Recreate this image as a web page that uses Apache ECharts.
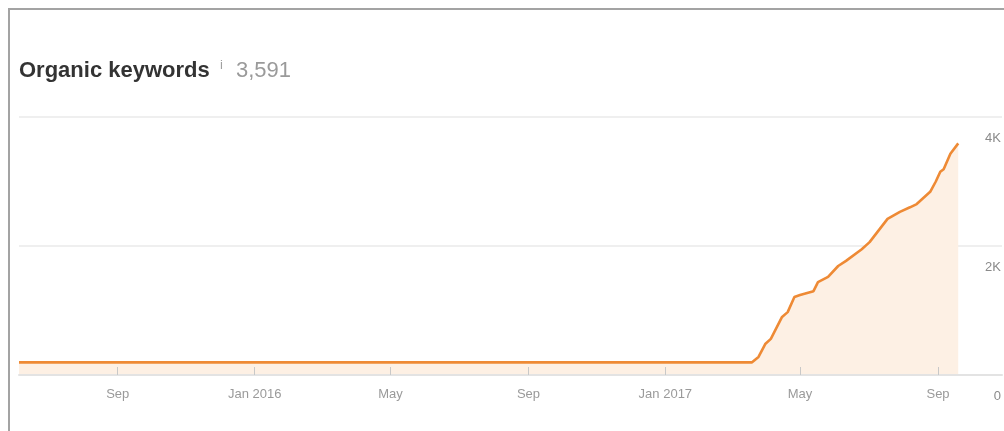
<!DOCTYPE html>
<html>
<head>
<meta charset="utf-8">
<script src="https://cdn.jsdelivr.net/npm/echarts@6/dist/echarts.min.js"></script>
<style>
html,body{margin:0;padding:0;background:#fff;}
#chart{width:1004px;height:431px;}
</style>
</head>
<body>
<div id="chart"></div>
<script>
// ---- data ----
var dates = [
  '2015-06-05','2017-03-19','2017-03-25','2017-03-31','2017-04-05','2017-04-15',
  '2017-04-20','2017-04-26','2017-05-01','2017-05-13','2017-05-17','2017-05-26',
  '2017-06-04','2017-06-11','2017-06-25','2017-07-02','2017-07-18','2017-07-29',
  '2017-08-07','2017-08-13','2017-08-25','2017-08-30','2017-09-03','2017-09-06',
  '2017-09-12','2017-09-19'
];
var keywords = [
  195,195,280,480,560,900,
  975,1210,1240,1300,1440,1520,
  1690,1770,1950,2060,2420,2530,
  2600,2650,2840,3000,3150,3190,
  3430,3591
];
var xTickDates = ['2015-09-01','2016-01-01','2016-05-01','2016-09-01','2017-01-01','2017-05-01','2017-09-01'];
var xTickLabels = ['Sep','Jan 2016','May','Sep','Jan 2017','May','Sep'];
var yTicks = [0, 2000, 4000];
var yTickLabels = ['0', '2K', '4K'];
var titleText = 'Organic keywords';
var totalText = '3,591';

// ---- chart ----
function ts(d) { return Date.UTC(+d.slice(0, 4), +d.slice(5, 7) - 1, +d.slice(8, 10)); }
var tickTs = xTickDates.map(ts);
var chart = echarts.init(document.getElementById('chart'), null, {renderer: 'canvas'});
var FONT = '"Liberation Sans", Arial, Helvetica, sans-serif';

chart.setOption({
  animation: false,
  backgroundColor: '#ffffff',
  grid: {left: 19, right: 2, top: 117, bottom: 56, containLabel: false},
  xAxis: {
    type: 'value',
    z: 5,
    min: ts('2015-06-05'),
    max: ts('2017-10-28'),
    axisLine: {show: true, lineStyle: {color: '#e3e3e3', width: 2}},
    axisTick: {show: true, inside: true, length: 8, lineStyle: {color: '#c8c8c8', width: 1}, customValues: tickTs},
    axisLabel: {
      customValues: tickTs,
      showMinLabel: true, showMaxLabel: true,
      color: '#9a9a9a', fontSize: 13, fontFamily: FONT, margin: 13,
      formatter: function (v) {
        for (var i = 0; i < tickTs.length; i++) {
          if (Math.abs(tickTs[i] - v) < 86400000) return xTickLabels[i];
        }
        return '';
      }
    },
    splitLine: {show: false}
  },
  yAxis: {
    type: 'value',
    position: 'right',
    min: 0, max: 4000, interval: 2000,
    axisLine: {show: false},
    axisTick: {show: false},
    axisLabel: {
      inside: true, margin: 1,
      color: '#8a8a8a', fontSize: 13, fontFamily: FONT,
      verticalAlign: 'top', padding: [15, 0, 0, 0],
      formatter: function (v) {
        var i = yTicks.indexOf(v);
        return i >= 0 ? yTickLabels[i] : '';
      }
    },
    splitLine: {show: true, lineStyle: {color: '#efefef', width: 2}}
  },
  series: [{
    type: 'line',
    data: dates.map(function (d, i) { return [ts(d), keywords[i]]; }),
    showSymbol: false,
    symbol: 'none',
    lineStyle: {color: '#ee8a35', width: 2.6},
    areaStyle: {color: '#fdf0e4', opacity: 1},
    z: 3
  }],
  graphic: [
    {type: 'rect', shape: {x: 9, y: 9, width: 1100, height: 1000},
     style: {fill: 'none', stroke: '#a3a3a3', lineWidth: 2}, silent: true, z: 100},
    {type: 'text', left: 19, top: 60,
     style: {text: titleText, font: 'bold 22px ' + FONT, fill: '#333333'}},
    {type: 'text', left: 220, top: 59,
     style: {text: 'i', font: '13px ' + FONT, fill: '#a0a0a0'}},
    {type: 'text', left: 236, top: 60,
     style: {text: totalText, font: '22px ' + FONT, fill: '#9a9a9a'}}
  ]
});
</script>
</body>
</html>
